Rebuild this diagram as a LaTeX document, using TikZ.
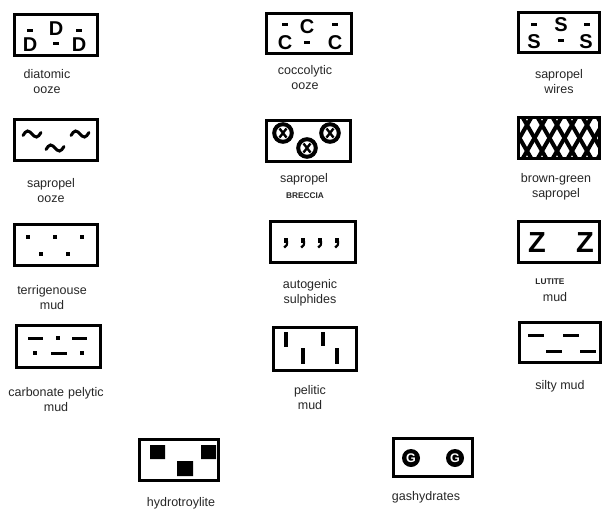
\documentclass[tikz,border=0pt]{standalone}
\usepackage{fontspec}
\setmainfont{Liberation Sans}
\begin{document}
\begin{tikzpicture}[x=1pt,y=-1pt,
  legbox/.style={draw, line width=2.6pt, inner sep=0pt, minimum width=#1},
  legbox/.default=83pt,
  lbl/.style={font=\fontsize{12.5}{15}\selectfont, text=black!85, align=center, inner sep=0pt},
  smallcap/.style={font=\fontsize{8.3}{9}\selectfont\bfseries, text=black!85, inner sep=0pt},
  sym/.style={font=\fontsize{20}{20}\selectfont\bfseries, inner sep=0pt},
  bigsym/.style={font=\fontsize{29}{29}\selectfont\bfseries, inner sep=0pt},
  bar/.style={line width=3pt},
  wave/.style={line width=3pt, line cap=round},
  ring/.style={line width=4pt},
  hatch/.style={line width=4pt}
]
\useasboundingbox (0,0) rectangle (602,509);

% ---------- row 1 ----------
\node[legbox, minimum height=41pt] (b1) at (56,35) {};
\node[sym] (d1) at (56,29) {D};
\node[sym] (d2) at (30,45) {D};
\node[sym] (d3) at (79,45) {D};
\draw[bar] (27,30) -- (33,30) (76,30) -- (82,30) (53,43) -- (59,43);
\node[lbl] (l1) at (47,81.5) {diatomic\\ooze};

\node[legbox=85pt, minimum height=40pt] (b2) at (309,33.5) {};
\node[sym] (c1) at (307,27) {C};
\node[sym] (c2) at (285,43) {C};
\node[sym] (c3) at (335,43) {C};
\draw[bar] (282,24) -- (288,24) (332,24) -- (338,24) (304,42) -- (310,42);
\node[lbl] (l2) at (305,77.5) {coccolytic\\ooze};

\node[legbox=81pt, minimum height=40pt] (b3) at (559,32.5) {};
\node[sym] (s1) at (561,25) {S};
\node[sym] (s2) at (534,42) {S};
\node[sym] (s3) at (586,42) {S};
\draw[bar] (531,24) -- (537,24) (584,24) -- (590,24) (558,40) -- (564,40);
\node[lbl] (l3) at (559,82) {sapropel\\wires};

% ---------- row 2 ----------
\node[legbox, minimum height=41pt] (b4) at (56,140) {};
\foreach \cx/\cy in {32/134, 80/134, 55/148}{
  \draw[wave] (\cx-9,\cy+1.5) sin (\cx-4.5,\cy-3) cos (\cx,\cy) sin (\cx+4.5,\cy+3) cos (\cx+9,\cy-1.5);
}
\node[lbl] (l4) at (51,190.5) {sapropel\\ooze};

\node[legbox=84pt, minimum height=41pt] (b5) at (308.5,141) {};
\foreach \cx/\cy in {283/133, 330/133, 307/148}{
  \draw[ring] (\cx,\cy) circle[radius=8.8pt];
  \draw[line width=2.4pt] (\cx-3.5,\cy-4.5) -- (\cx+3.5,\cy+4.5) (\cx+3.5,\cy-4.5) -- (\cx-3.5,\cy+4.5);
}
\node[lbl] (l5) at (304,179) {sapropel};
\node[smallcap] (l5b) at (305,196) {BRECCIA};

\begin{scope}
  \clip (518.5,117.5) rectangle (599.5,158.5);
  \foreach \k in {-6,...,10}{
    \draw[hatch] (519.5+\k*15-37.5,73) -- (519.5+\k*15+37.5,203);
    \draw[hatch] (519.5+\k*15+37.5,73) -- (519.5+\k*15-37.5,203);
  }
\end{scope}
\node[legbox=81pt, minimum height=41pt] (b6) at (559,138) {};
\node[lbl] (l6) at (556,186.5) {brown-green\\sapropel};

% ---------- row 3 ----------
\node[legbox, minimum height=41pt] (b7) at (56,245) {};
\foreach \cx/\cy in {28/237, 55/237, 82/237, 41/254, 68/254}{
  \fill (\cx-2,\cy-2) rectangle (\cx+2,\cy+2);
}
\node[lbl] (l7) at (52,297.5) {terrigenouse\\mud};

\node[legbox=85pt, minimum height=41pt] (b8) at (313,242) {};
\foreach \cx in {286,303,320,337}{
  \fill (\cx-2,237.5) rectangle (\cx+2,242.5);
  \draw[line width=2.2pt] (\cx+1,241) .. controls (\cx+1,245.5) .. (\cx-1.8,247.5);
}
\node[lbl] (l8) at (310,292.5) {autogenic\\sulphides};

\node[legbox=81pt, minimum height=41pt] (b9) at (559,242) {};
\node[bigsym] (z1) at (537,243) {Z};
\node[bigsym] (z2) at (585,243) {Z};
\node[smallcap] (l9) at (550,282) {LUTITE};
\node[lbl] (l9b) at (555,297) {mud};

% ---------- row 4 ----------
\node[legbox=84pt, minimum height=42pt] (b10) at (58.5,346.5) {};
\draw[bar] (28,338) -- (43,338) (72,338) -- (87,338) (51,353) -- (67,353);
\foreach \cx/\cy in {58/338, 35/353, 82/353}{
  \fill (\cx-2,\cy-2) rectangle (\cx+2,\cy+2);
}
\node[lbl] (l10) at (56,399.5) {carbonate\,\,pelytic\\mud};

\node[legbox=83pt, minimum height=43pt] (b11) at (315,349) {};
\draw[line width=3.4pt] (286,332) -- (286,347) (303,348) -- (303,364) (323,332) -- (323,346) (337,348) -- (337,364);
\node[lbl] (l11) at (310,397.5) {pelitic\\mud};

\node[legbox=81pt, minimum height=40pt] (b12) at (560,342.5) {};
\draw[bar] (528,335) -- (544,335) (563,335) -- (579,335) (546,351) -- (562,351) (580,351) -- (596,351);
\node[lbl] (l12) at (560,386) {silty mud};

% ---------- row 5 ----------
\node[legbox=79pt, minimum height=41pt] (b13) at (179,460) {};
\fill (150,445) rectangle (165,459) (177,461) rectangle (193,476) (201,445) rectangle (216,459);
\node[lbl] (l13) at (181,503.5) {hydrotroylite};

\node[legbox=79pt, minimum height=38pt] (b14) at (433,457.5) {};
\foreach \cx in {411,455}{
  \fill (\cx,458) circle[radius=9pt];
  \node[font=\fontsize{12.5}{12.5}\selectfont\bfseries, text=white, inner sep=0pt] at (\cx,458) {G};
}
\node[lbl] (l14) at (426,497) {gashydrates};
\end{tikzpicture}
\end{document}
